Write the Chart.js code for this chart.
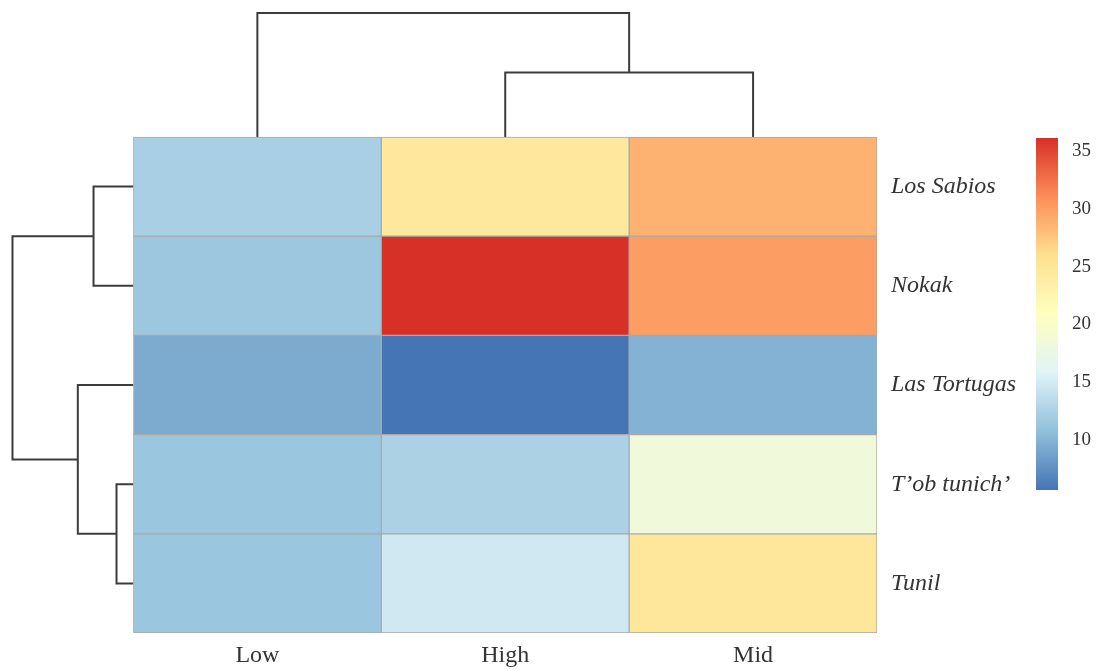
<!DOCTYPE html>
<html lang="en">
<head>
    <meta charset="UTF-8">
    <title>Heatmap</title>
    <style>
        body {
            margin: 0;
            background: #fff;
        }
        .box {
            position: absolute;
        }
    </style>
</head>
<body>
    <div class="box" style="left:0; top:0; width:1097px; height:671px;">
        <canvas id="heatChart"></canvas>
    </div>
    <div class="box" style="left:1030px; top:126px; width:67px; height:376px;">
        <canvas id="keyChart"></canvas>
    </div>
    <script src="https://cdn.jsdelivr.net/npm/chart.js@4/dist/chart.umd.min.js"></script>
    <script>
        // rows top to bottom, columns left to right (dendrogram order)
        const rowLabels = ['Los Sabios', 'Nokak', 'Las Tortugas', 'T’ob tunich’', 'Tunil'];
        const colLabels = ['Low', 'High', 'Mid'];
        const lowValues = [12.3, 11.5, 9.4, 11.4, 11.4];
        const highValues = [24.6, 36.1, 5.7, 12.5, 14.8];
        const midValues = [28.8, 30.0, 9.9, 18.5, 24.8];
        const keyTicks = [10, 15, 20, 25, 30, 35];

        // cluster merges: [node a, node b, height relative to root]; numbers are leaves, 'mN' earlier merges
        const rowMerges = [[0, 1, 0.33], [3, 4, 0.14], [2, 'm1', 0.46], ['m0', 'm2', 1.0]];
        const colMerges = [[1, 2, 0.52], [0, 'm0', 1.0]];

        const palette = ['#4575B4', '#91BFDB', '#E0F3F8', '#FFFFBF', '#FEE090', '#FC8D59', '#D73027'];
        const allValues = lowValues.concat(highValues, midValues);
        const scaleMin = Math.min(...allValues);
        const scaleMax = Math.max(...allValues);

        const rowTreeSpan = 0.488;  // in column widths
        const colTreeSpan = 1.25;   // in row heights
        const serif = '"Liberation Serif", "DejaVu Serif", serif';
        const textColor = '#333';
        const lineColor = '#3c3c3c';

        function hexRgb(h) {
            return [1, 3, 5].map(i => parseInt(h.substr(i, 2), 16));
        }
        function colorFor(v) {
            const t = Math.min(1, Math.max(0, (v - scaleMin) / (scaleMax - scaleMin))) * (palette.length - 1);
            const i = Math.min(Math.floor(t), palette.length - 2);
            const f = t - i;
            const a = hexRgb(palette[i]), b = hexRgb(palette[i + 1]);
            const c = a.map((x, k) => Math.round(x + (b[k] - x) * f));
            return `rgb(${c[0]},${c[1]},${c[2]})`;
        }

        function treePoints(merges) {
            const nodes = {};
            const pts = [];
            const node = k => typeof k === 'number' ? { p: k + 0.5, h: 0 } : nodes[k];
            merges.forEach((m, i) => {
                const a = node(m[0]), b = node(m[1]), h = m[2];
                pts.push({ p: a.p, h: a.h }, { p: a.p, h: h }, { p: b.p, h: h }, { p: b.p, h: b.h }, null);
                nodes['m' + i] = { p: (a.p + b.p) / 2, h: h };
            });
            return pts;
        }

        const rowTree = treePoints(rowMerges).map(o => o ? { x: -o.h * rowTreeSpan, y: o.p } : { x: 0, y: null });
        const colTree = treePoints(colMerges).map(o => o ? { x: o.p, y: -o.h * colTreeSpan } : { x: 0, y: null });

        const columns = [lowValues, highValues, midValues];
        const cellSets = rowLabels.map((name, r) => ({
            label: name,
            data: colLabels.map((c, j) => ({ x: j + 0.5, y: [r, r + 1] })),
            backgroundColor: columns.map(col => colorFor(col[r])),
            borderColor: '#a9a9a9',
            borderWidth: 1,
            borderSkipped: false,
            grouped: false,
            categoryPercentage: 1,
            barPercentage: 1
        }));

        const treeStyle = {
            type: 'line',
            borderColor: lineColor,
            borderWidth: 2,
            pointRadius: 0,
            tension: 0,
            spanGaps: false,
            clip: false,
            fill: false
        };

        // vertical axes pad for their end labels even when no tick sits at the ends
        const noEndPadding = s => { s.paddingTop = 0; s.paddingBottom = 0; };

        new Chart(document.getElementById('heatChart'), {
            type: 'bar',
            data: {
                datasets: cellSets.concat([
                    Object.assign({ label: 'rows', data: rowTree }, treeStyle),
                    Object.assign({ label: 'cols', data: colTree }, treeStyle)
                ])
            },
            options: {
                responsive: true,
                maintainAspectRatio: false,
                animation: false,
                layout: { padding: { left: 12, top: 13, right: 0, bottom: 0 } },
                plugins: { legend: { display: false }, tooltip: { enabled: false } },
                scales: {
                    x: {
                        type: 'linear',
                        min: -rowTreeSpan - 0.002,
                        max: 3,
                        offset: false,
                        grid: { display: false, drawTicks: false },
                        border: { display: false },
                        afterBuildTicks: s => { s.ticks = colLabels.map((c, j) => ({ value: j + 0.5 })); },
                        afterFit: s => { s.height = 38; },
                        ticks: {
                            autoSkip: false,
                            maxRotation: 0,
                            padding: 8,
                            color: textColor,
                            font: { family: serif, size: 24 },
                            callback: v => colLabels[Math.floor(v)]
                        }
                    },
                    y: {
                        type: 'linear',
                        position: 'right',
                        reverse: true,
                        min: -colTreeSpan,
                        max: 5,
                        grid: { display: false, drawTicks: false },
                        border: { display: false },
                        afterBuildTicks: s => { s.ticks = rowLabels.map((r, i) => ({ value: i + 0.5 })); },
                        afterFit: s => { s.width = 220; noEndPadding(s); },
                        ticks: {
                            autoSkip: false,
                            padding: 14,
                            color: textColor,
                            font: { family: serif, size: 24, style: 'italic' },
                            callback: v => rowLabels[Math.floor(v)]
                        }
                    }
                }
            }
        });

        new Chart(document.getElementById('keyChart'), {
            type: 'bar',
            data: {
                labels: ['key'],
                datasets: [{
                    data: [[scaleMin, scaleMax]],
                    categoryPercentage: 1,
                    barPercentage: 1,
                    borderWidth: 0,
                    backgroundColor: ctx => {
                        const chart = ctx.chart;
                        if (!chart.chartArea) return palette[0];
                        const y = chart.scales.y;
                        const g = chart.ctx.createLinearGradient(0, y.getPixelForValue(scaleMin), 0, y.getPixelForValue(scaleMax));
                        palette.forEach((c, i) => g.addColorStop(i / (palette.length - 1), c));
                        return g;
                    }
                }]
            },
            options: {
                responsive: true,
                maintainAspectRatio: false,
                animation: false,
                layout: { padding: { left: 6, top: 12, right: 0, bottom: 12 } },
                plugins: { legend: { display: false }, tooltip: { enabled: false } },
                scales: {
                    x: { display: false },
                    y: {
                        position: 'right',
                        min: scaleMin,
                        max: scaleMax,
                        grid: { display: false, drawTicks: false },
                        border: { display: false },
                        afterBuildTicks: s => { s.ticks = keyTicks.map(v => ({ value: v })); },
                        afterFit: s => { s.width = 39; noEndPadding(s); },
                        ticks: {
                            padding: 14,
                            color: textColor,
                            font: { family: serif, size: 19 }
                        }
                    }
                }
            }
        });
    </script>
</body>
</html>
